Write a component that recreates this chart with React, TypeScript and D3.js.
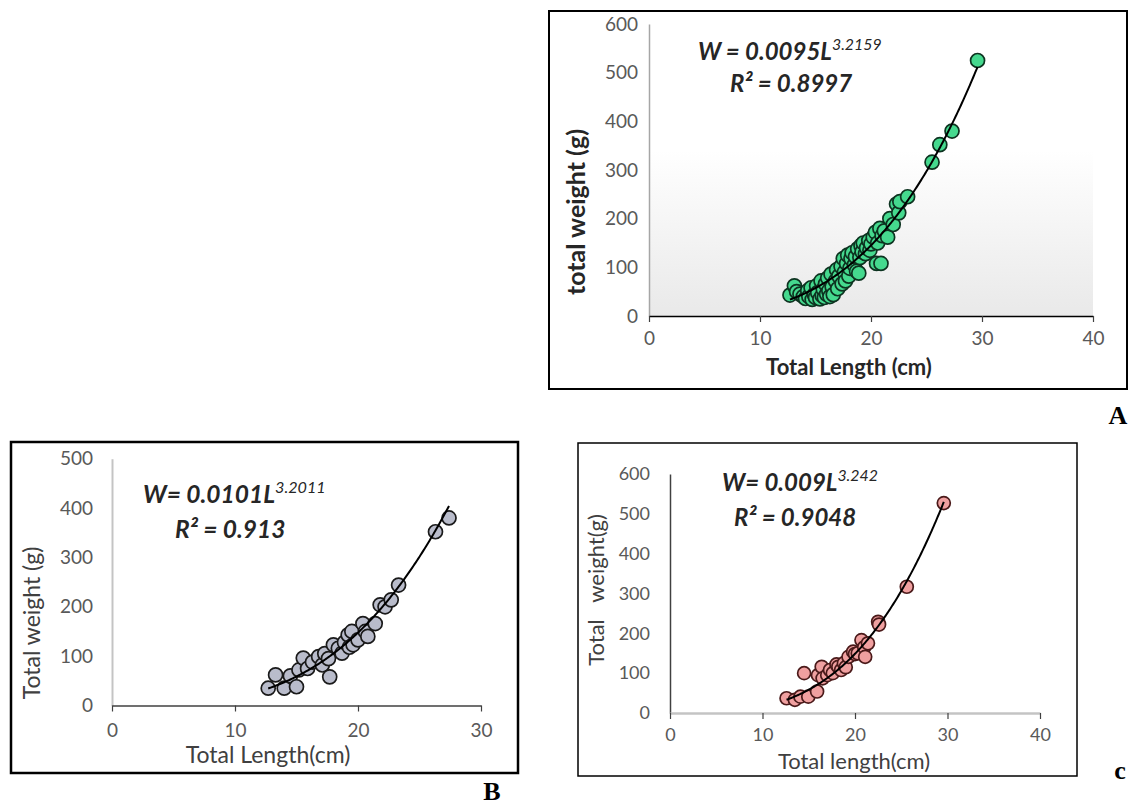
import React, { useEffect, useRef } from 'react'
import * as d3 from 'd3'

// panel A (green)
const lengthA = [12.7, 13.1, 13.3, 13.6, 13.9, 14.1, 14.3, 14.4, 14.6, 14.7, 14.9, 15.0, 15.1, 15.2, 15.4, 15.5, 15.6, 15.7, 15.8, 15.9, 16.0, 16.1, 16.2, 16.3, 16.4, 16.5, 16.6, 16.8, 16.9, 17.0, 17.1, 17.3, 17.4, 17.5, 17.6, 17.7, 17.8, 17.9, 18.0, 18.1, 18.2, 18.3, 18.5, 18.6, 18.7, 18.8, 18.9, 19.0, 19.1, 19.2, 19.3, 19.5, 19.6, 19.8, 19.9, 20.0, 20.2, 20.4, 20.5, 20.6, 20.8, 20.9, 21.0, 21.2, 21.5, 21.7, 22.0, 22.3, 22.5, 22.6, 23.3, 25.5, 26.2, 27.3, 29.6]
const weightA = [43, 62, 50, 45, 40, 36, 52, 40, 58, 34, 44, 38, 62, 48, 35, 72, 42, 55, 38, 66, 45, 78, 52, 40, 86, 60, 44, 72, 95, 56, 82, 102, 66, 118, 90, 72, 108, 125, 82, 98, 118, 130, 105, 122, 92, 138, 88, 120, 145, 132, 150, 128, 140, 155, 135, 148, 162, 172, 108, 150, 180, 108, 165, 175, 162, 200, 188, 230, 212, 235, 245, 316, 352, 380, 525]

// panel B (grey)
const lengthB = [12.7, 13.3, 14.0, 14.5, 15.0, 15.2, 15.55, 15.9, 16.3, 16.8, 17.1, 17.3, 17.6, 17.7, 18.0, 18.4, 18.7, 18.9, 19.2, 19.3, 19.5, 19.6, 20.0, 20.4, 20.6, 20.8, 21.4, 21.8, 22.2, 22.7, 23.3, 26.3, 27.4]
const weightB = [35, 62, 35, 60, 38, 72, 96, 75, 88, 99, 82, 105, 95, 58, 123, 116, 106, 128, 143, 118, 150, 123, 133, 166, 150, 140, 166, 204, 200, 214, 244, 352, 380]

// panel C (pink)
const lengthC = [12.6, 13.5, 14.1, 14.5, 14.95, 15.9, 16.0, 16.4, 16.5, 17.0, 17.3, 17.6, 18.0, 18.2, 18.5, 18.8, 19.0, 19.3, 19.8, 20.0, 20.3, 20.7, 21.0, 21.1, 21.4, 22.5, 22.6, 25.6, 29.6]
const weightC = [37, 33, 41, 100, 41, 54, 95, 116, 87, 95, 108, 100, 122, 116, 108, 125, 115, 141, 154, 148, 150, 183, 165, 141, 175, 229, 222, 317, 527]

// power fits W = a * L^b
const fitA = [0.0095, 3.2159]
const fitB = [0.0101, 3.2011]
const fitC = [0.009, 3.242]

const xTicks40 = [0, 10, 20, 30, 40]
const xTicks30 = [0, 10, 20, 30]
const yTicks600 = [0, 100, 200, 300, 400, 500, 600]
const yTicks500 = [0, 100, 200, 300, 400, 500]

const eqA = ['W = 0.0095L', '3.2159', 'R² = 0.8997']
const eqB = ['W= 0.0101L', '3.2011', 'R² = 0.913']
const eqC = ['W= 0.009L', '3.242', 'R² = 0.9048']

const FONT = "Lato, 'Open Sans', sans-serif"

const panels = [
  {
    lengths: lengthA, weights: weightA, fit: fitA, eq: eqA,
    xTicks: xTicks40, yTicks: yTicks600, xMax: 40, yMax: 600,
    box: [549, 11, 1127, 389], boxStroke: 2,
    plot: [649, 1093, 316, 24],
    shade: true,
    yAxisColor: '#a6a6a6', yAxisWidth: 1.5, xAxisColor: '#000', xAxisWidth: 1.5,
    tickFont: 19, yPad: 11, xPad: 10,
    fill: '#45d98e', stroke: '#0d3320', r: 7,
    eqX: 698, eqY: 60, rX: 730, rY: 92, eqFont: 24,
    xLabel: 'Total Length (cm)', xLabelX: 849, xLabelY: 375, xLabelSize: 22, xLabelWeight: 'bold',
    yLabel: 'total weight (g)', yLabelX: 585, yLabelY: 212, yLabelSize: 25, yLabelWeight: 'bold',
    labelColor: '#262626',
    letter: 'A', letterX: 1118, letterY: 424,
  },
  {
    lengths: lengthB, weights: weightB, fit: fitB, eq: eqB,
    xTicks: xTicks30, yTicks: yTicks500, xMax: 30, yMax: 500,
    box: [11, 442, 518, 773], boxStroke: 2.5,
    plot: [112, 481, 705.5, 458.7],
    shade: false,
    yAxisColor: '#c4c4c4', yAxisWidth: 2, xAxisColor: '#404040', xAxisWidth: 1.5,
    tickFont: 19, yPad: 19, xPad: 12,
    fill: '#b9bccb', stroke: '#1a1a1a', r: 7,
    eqX: 143, eqY: 503, rX: 175, rY: 538, eqFont: 24.5,
    xLabel: 'Total Length(cm)', xLabelX: 268, xLabelY: 763, xLabelSize: 23, xLabelWeight: 'normal',
    yLabel: 'Total weight (g)', yLabelX: 40, yLabelY: 623, yLabelSize: 23, yLabelWeight: 'normal',
    labelColor: '#404040',
    letter: 'B', letterX: 492, letterY: 800,
  },
  {
    lengths: lengthC, weights: weightC, fit: fitC, eq: eqC,
    xTicks: xTicks40, yTicks: yTicks600, xMax: 40, yMax: 600,
    box: [578, 443, 1077, 776], boxStroke: 1.5,
    plot: [670, 1040, 713, 474],
    shade: false,
    yAxisColor: '#404040', yAxisWidth: 1.5, xAxisColor: '#c4c4c4', xAxisWidth: 2.5,
    tickFont: 18, yPad: 20, xPad: 9,
    fill: '#f0a0a0', stroke: '#4a1a1a', r: 6.5,
    eqX: 722, eqY: 491, rX: 734, rY: 526, eqFont: 24,
    xLabel: 'Total length(cm)', xLabelX: 854, xLabelY: 769, xLabelSize: 22, xLabelWeight: 'normal',
    yLabel: 'Total   weight(g)', yLabelX: 604, yLabelY: 590, yLabelSize: 22, yLabelWeight: 'normal',
    labelColor: '#404040',
    letter: 'c', letterX: 1120, letterY: 779,
  },
]

function drawPanel(svg: any, p: any, idx: number) {
  const g = svg.append('g')
  const [bx0, by0, bx1, by1] = p.box
  g.append('rect')
    .attr('x', bx0).attr('y', by0)
    .attr('width', bx1 - bx0).attr('height', by1 - by0)
    .attr('fill', '#fff').attr('stroke', '#000').attr('stroke-width', p.boxStroke)

  const x = d3.scaleLinear().domain([0, p.xMax]).range([p.plot[0], p.plot[1]])
  const y = d3.scaleLinear().domain([0, p.yMax]).range([p.plot[2], p.plot[3]])

  if (p.shade) {
    const id = 'shade' + idx
    const grad = svg.append('defs').append('linearGradient')
      .attr('id', id).attr('x1', 0).attr('y1', 0).attr('x2', 0).attr('y2', 1)
    grad.append('stop').attr('offset', '0%').attr('stop-color', '#ffffff')
    grad.append('stop').attr('offset', '100%').attr('stop-color', '#e9e9e9')
    g.append('rect')
      .attr('x', x(0)).attr('y', y(340))
      .attr('width', x(p.xMax) - x(0)).attr('height', y(0) - y(340))
      .attr('fill', `url(#${id})`)
  }

  const ya = g.append('g')
    .attr('transform', `translate(${x(0)},0)`)
    .call(d3.axisLeft(y).tickValues(p.yTicks).tickSize(0).tickPadding(p.yPad))
  ya.attr('font-family', FONT).attr('font-size', p.tickFont)
  ya.select('.domain').attr('stroke', p.yAxisColor).attr('stroke-width', p.yAxisWidth)
  ya.selectAll('text').attr('fill', '#595959')

  const xa = g.append('g')
    .attr('transform', `translate(0,${y(0)})`)
    .call(d3.axisBottom(x).tickValues(p.xTicks).tickSizeInner(6).tickSizeOuter(0).tickPadding(p.xPad))
  xa.attr('font-family', FONT).attr('font-size', p.tickFont)
  xa.select('.domain').attr('stroke', p.xAxisColor).attr('stroke-width', p.xAxisWidth)
  xa.selectAll('.tick line').attr('stroke', '#404040').attr('stroke-width', 1.2)
  xa.selectAll('text').attr('fill', '#595959')

  const pts = d3.zip(p.lengths, p.weights) as [number, number][]
  g.append('g').selectAll('circle').data(pts).join('circle')
    .attr('cx', (d: any) => x(d[0])).attr('cy', (d: any) => y(d[1]))
    .attr('r', p.r)
    .attr('fill', p.fill).attr('stroke', p.stroke).attr('stroke-width', 1.7)

  const [lo, hi] = d3.extent(p.lengths) as [number, number]
  const [a, b] = p.fit
  const ls = d3.range(lo, hi + 0.05, 0.1)
  const line = d3.line<number>().x(L => x(L)).y(L => y(a * Math.pow(L, b))).curve(d3.curveMonotoneX)
  g.append('path').attr('d', line(ls)).attr('fill', 'none').attr('stroke', '#000').attr('stroke-width', 2)

  const eq = g.append('text')
    .attr('x', p.eqX).attr('y', p.eqY)
    .attr('font-family', FONT).attr('font-weight', 'bold').attr('font-style', 'italic')
    .attr('font-size', p.eqFont).attr('fill', '#262626')
  eq.append('tspan').text(p.eq[0])
  eq.append('tspan').attr('dy', -p.eqFont * 0.42).attr('font-size', p.eqFont * 0.66)
    .attr('font-weight', 'normal').text(p.eq[1])
  g.append('text')
    .attr('x', p.rX).attr('y', p.rY)
    .attr('font-family', FONT).attr('font-weight', 'bold').attr('font-style', 'italic')
    .attr('font-size', p.eqFont).attr('fill', '#262626')
    .text(p.eq[2])

  g.append('text')
    .attr('x', p.xLabelX).attr('y', p.xLabelY).attr('text-anchor', 'middle')
    .attr('font-family', FONT).attr('font-size', p.xLabelSize).attr('font-weight', p.xLabelWeight)
    .attr('fill', p.labelColor).text(p.xLabel)
  g.append('text')
    .attr('transform', `translate(${p.yLabelX},${p.yLabelY}) rotate(-90)`).attr('text-anchor', 'middle')
    .attr('font-family', FONT).attr('font-size', p.yLabelSize).attr('font-weight', p.yLabelWeight)
    .style('white-space', 'pre')
    .attr('fill', p.labelColor).text(p.yLabel)

  g.append('text')
    .attr('x', p.letterX).attr('y', p.letterY).attr('text-anchor', 'middle')
    .attr('font-family', "'Liberation Serif', 'DejaVu Serif', serif").attr('font-weight', 'bold')
    .attr('font-size', 26).attr('fill', '#000').text(p.letter)
}

const App = () => {
  const ref = useRef<SVGSVGElement>(null)

  useEffect(() => {
    const svg = d3.select(ref.current)
    svg.selectAll('*').remove()
    panels.forEach((p, i) => drawPanel(svg, p, i))
  }, [])

  return (
    <svg ref={ref} width={1132} height={807}
      style={{ position: 'absolute', left: 0, top: 0, background: '#fff' }} />
  )
}

export default App
